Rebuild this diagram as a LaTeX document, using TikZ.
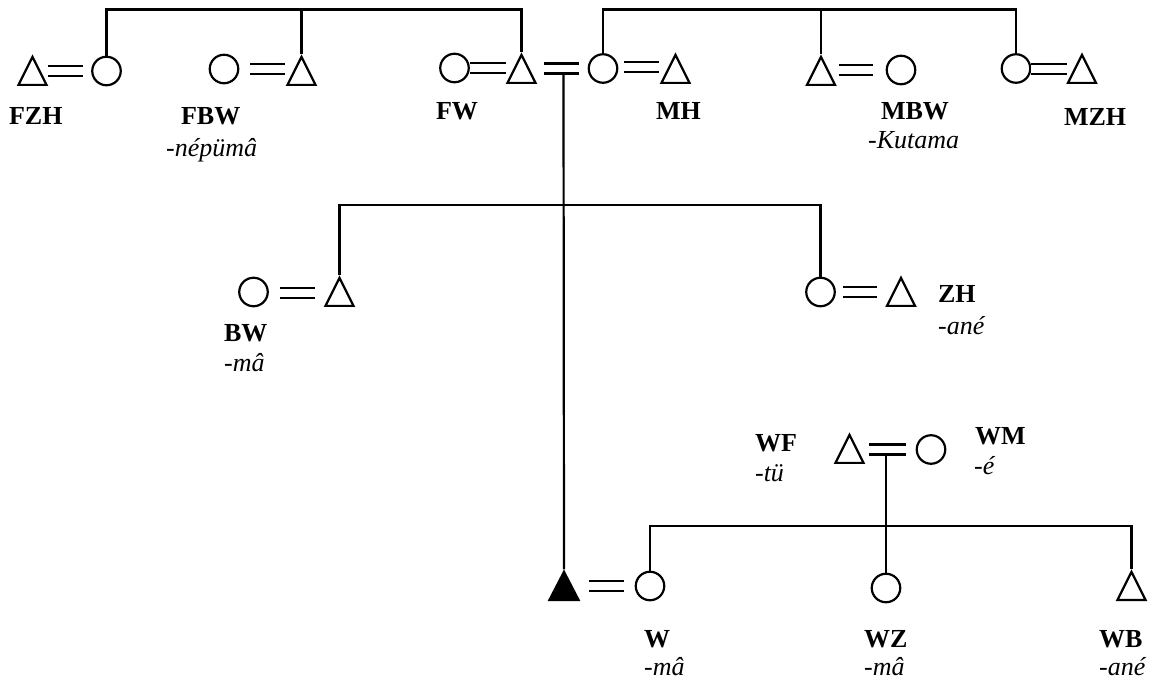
\documentclass[tikz,border=0pt]{standalone}
\usepackage{fontspec}
\setmainfont{Liberation Serif}
\usetikzlibrary{shapes.geometric,calc}
\begin{document}
\begin{tikzpicture}[x=1pt,y=-1pt,line width=2.2pt,
  female/.style={circle,draw,inner sep=0pt,minimum size=28.5pt},
  male/.style={isosceles triangle,isosceles triangle apex angle=53,
    isosceles triangle stretches,shape border rotate=90,draw,inner sep=0pt,
    minimum width=28pt,minimum height=28pt,anchor=lower side},
  egomale/.style={male,fill=black,minimum width=29pt},
  marriage/.style={double,double distance=7.8pt},
  kin/.style={font=\fontsize{26}{30}\selectfont\bfseries,inner sep=0pt,anchor=base west},
  term/.style={font=\fontsize{26}{30}\selectfont\itshape,inner sep=0pt,anchor=base west},
]
\useasboundingbox (0,0) rectangle (1149,684);

% parents' generation
\node[male]   (fzh) at (32.5,86) {};
\node[female] (fz)  at (106.5,71) {};
\node[female] (fbw) at (224,69) {};
\node[male]   (fb)  at (301.5,86) {};
\node[female] (fw)  at (454.5,68) {};
\node[male]   (f)   at (521.5,84) {};
\node[female] (m)   at (603,68.5) {};
\node[male]   (mh)  at (675.5,84) {};
\node[male]   (mb)  at (821,86) {};
\node[female] (mbw) at (901,70) {};
\node[female] (mz)  at (1016,68.5) {};
\node[male]   (mzh) at (1082,84) {};

\coordinate (top) at (0,9.5);
\draw (fz.north) -- (fz.north |- top) -- (f.apex |- top) -- (f.apex);
\draw (fb.apex) -- (fb.apex |- top);
\draw (m.north) -- (m.north |- top) -- (mz.north |- top) -- (mz.north);
\draw (mb.apex) -- (mb.apex |- top);

\draw[marriage] ($(fzh.apex |- fz.center)+(15.5,0)$) -- ($(fz.center)+(-23.5,0)$);
\draw[marriage] ($(fbw.center)+(26,0)$) -- ($(fb.apex |- fbw.center)+(-16.5,0)$);
\draw[marriage] ($(fw.center)+(15.5,0)$) -- ($(f.apex |- fw.center)+(-15.5,0)$);
\draw[marriage] ($(f.apex |- m.center)+(22.5,0)$) -- ($(m.center)+(-24,0)$);
\draw[marriage] ($(m.center)+(21,-1.5)$) -- ($(mh.apex |- m.center)+(-16.5,-1.5)$);
\draw[marriage] ($(mb.apex |- mbw.center)+(18,0)$) -- ($(mbw.center)+(-28,0)$);
\draw[marriage] ($(mz.center)+(15,0.5)$) -- ($(mzh.apex |- mz.center)+(-15,0.5)$);
\coordinate (fmd) at ($(f.apex |- m.center)+(42,5.5)$);

\node[kin]  (lfzh) at (8,125) {FZH};
\node[kin]  (lfbw) at (180,125) {FBW};
\node[term] (tfbw) at (165,157) {-népümâ};
\node[kin]  (lfw)  at (435,120) {FW};
\node[kin]  (lmh)  at (655,120) {MH};
\node[kin]  (lmbw) at (880,120) {MBW};
\node[term] (tmbw) at (867,149) {-Kutama};
\node[kin]  (lmzh) at (1063,126) {MZH};

% ego's generation
\node[female] (bw) at (253.5,292) {};
\node[male]   (b)  at (339.5,307) {};
\node[female] (z)  at (820.5,292) {};
\node[male]   (zh) at (901,307) {};

\coordinate (sib) at (0,205);
\draw (b.apex) -- (b.apex |- sib) -- (z.north |- sib) -- (z.north);
\draw[marriage] ($(bw.center)+(26.5,1)$) -- ($(b.apex |- bw.center)+(-24.5,1)$);
\draw[marriage] ($(z.center)+(22.5,0)$) -- ($(zh.apex |- z.center)+(-24,0)$);

\node[kin]  (lbw) at (223,342) {BW};
\node[term] (tbw) at (223,372) {-mâ};
\node[kin]  (lzh) at (937,303) {ZH};
\node[term] (tzh) at (937,335) {-ané};

% wife's family
\node[egomale] (e)  at (564,601) {};
\node[female]  (w)  at (650,586) {};
\node[female]  (wz) at (886,588) {};
\node[male]    (wb) at (1131.5,601) {};
\node[male]    (wf) at (849.5,464) {};
\node[female]  (wm) at (931,449.5) {};

\draw[marriage] ($(wf.apex |- wm.center)+(19.5,0)$) -- ($(wm.center)+(-25,0)$);
\draw[marriage] ($(e.apex |- w.center)+(25,0)$) -- ($(w.center)+(-26,0)$);
\coordinate (wsib) at (0,525.7);
\draw (w.north) -- (w.north |- wsib) -- (wb.apex |- wsib) -- (wb.apex);
\coordinate (wfmd) at ($(wm.center)+(-45,4.5)$);
\draw (wfmd) -- (wz.north);

% ego's line of descent
\draw (fmd) -- (e.apex);

\node[kin]  (lwf) at (754,452) {WF};
\node[term] (twf) at (754,482) {-tü};
\node[kin]  (lwm) at (974,445) {WM};
\node[term] (twm) at (973,475) {-é};
\node[kin]  (lw)  at (643,647) {W};
\node[term] (tw)  at (643,675) {-mâ};
\node[kin]  (lwz) at (863,647) {WZ};
\node[term] (twz) at (863,675) {-mâ};
\node[kin]  (lwb) at (1098,647) {WB};
\node[term] (twb) at (1098,675) {-ané};
\end{tikzpicture}
\end{document}
